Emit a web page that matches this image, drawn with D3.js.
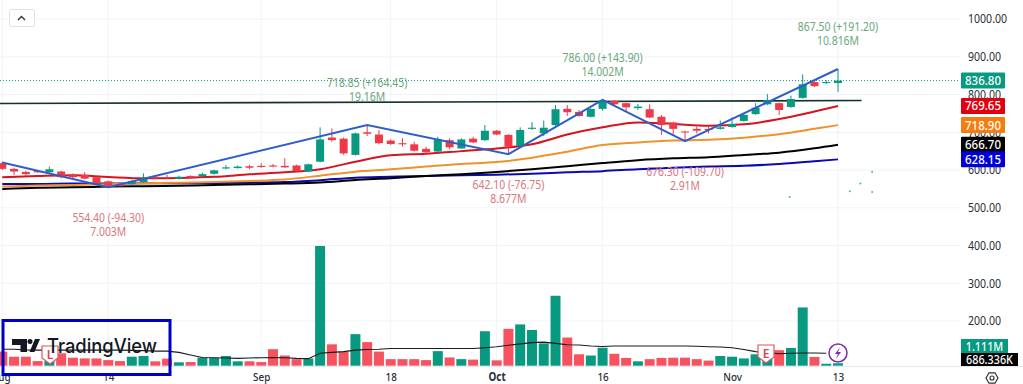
<!DOCTYPE html>
<html>
<head>
<meta charset="utf-8">
<script src="https://cdn.jsdelivr.net/npm/d3@7"></script>
<style>
  html, body { margin: 0; padding: 0; background: #fff; overflow: hidden; }
  svg { display: block; font-family: "Noto Sans", sans-serif; }
</style>
</head>
<body>
<svg id="chart" width="1023" height="384"></svg>
<script>
// daily bars
const opens = [618,603,595,597,594,596,589,587,581,570,563,563,568,582,581,577,584,584,590,604,605,610,611,612,611,612,596,622,686,683,640,700,694,678,671,668,656,649,679,657,683,679,704,693,664,709,697,719,762,754,741,762,783,777,764,761,741,726,702,709,709,709,714,730,748,774,777,767,791,833,831,830.5]
const highs = [622,606,598,599,609,598,591,594,583,572,565,573,591,584,587,585,586,593,601,613,612,614,618,616,631,614,617,713,710,686,699,718.85,706,681,684,675,662,688,684,684,688,719,706,695,713,727,731,772,772,759,763,786,785,778,775,774,746,728,704,715,717,731,740,748,777,801,778,797,853,835,838,867.5]
const lows = [600,587,585,592,591,578,578,575,564,554.4,556,561,566,576,576,575,578,581,588,602,604,602,606,607,606,595,594,620,675,640,638,690,668,666,662,649,644,647,655,656,671,677,692,642.1,662,706,690,717,743,741,739,757,772,754,759,737,693,693,676.3,697,697,707,712,728,746,772,746,765,789,820,828,807]
const closes = [603,596,589,594,602,581,581,577,566,559,557,571,578,578,579,582,580,589,599,607,609,606,608,609,607,597,615,681,679,644,697,696,671,669,668,651,647,681,660,681,673,704,694,662,706,712,712,761,753,743,762,783,774,766,768,739,719,709,700,704,706,713,722,746,765,785,759,788,827,822,833,836.8]
const volumes = [5.8,3.7,3.7,1.9,1.9,5.1,3.3,3.0,3.0,2.3,1.9,3.7,4.0,1.8,2.9,1.4,1.5,3.3,3.2,4.0,1.8,1.8,1.5,6.8,4.2,2.7,3.0,49.3,8.8,5.8,13,9.7,5.8,2.7,2.7,2.7,2.3,6.0,3.4,2.7,2.5,14.2,2.2,15.2,17,14.7,9.2,28.8,11.6,4.7,4.2,7.4,4.9,3.2,1.8,2.7,3.2,3.3,3.3,2.7,2.1,4,3.7,3,4.7,3,6.4,7.3,24,3.6,0.8,1.0]
const volumeMa = [6.8,6.8,6.5,6.4,6.4,6.4,6.4,6.4,6.4,6.4,6.4,6.3,6.2,6.0,6.0,5.5,4.4,3.4,3.3,3.2,3.0,3.2,3.3,3.4,3.3,3.0,2.9,5.1,5.5,5.8,6.4,6.7,6.8,7.1,7.1,7.1,7.1,7.1,7.1,7.1,7.1,7.4,7.8,8.4,9.0,9.5,9.7,9.2,8.6,8.5,8.1,7.9,8.1,8.1,8.1,8.1,8.1,8.1,8.1,8.0,7.8,7.7,7.4,6.7,5.8,5.3,4.9,5.1,5.2,5.2,5.1]

// moving averages, read every third bar
const maBars = [0,3,6,9,12,15,18,21,24,27,30,33,36,39,42,45,48,51,54,57,60,63,66,69,71]
const maRed = [581,584,586,581.5,578,579,582,588.6,594,602,622,639,643,650,657,668,694,713,726,722,717.4,721,735,755,769.65]
const maOrange = [556,559,560,562,565,566.5,568,571,575,585,595.6,601.7,609,616,621,632.6,648.5,666,673,678,680,685.6,695,709,718.9]
const maBlack = [549.7,553,554,556,557,558.5,560,562,564,567,573.5,578,584,589,595,602,610,618.5,626,631,634,640,646,657.4,666.7]
const maNavy = [563,563,564,564,565,565,565.6,566.5,568,573,579.7,582,584,586,587.6,590,593.8,597,602,606,609,611,616,623,628.15]

// zigzag pivots
const pivotBars = [0,9,31,43,51,58,71]
const pivotPrices = [620,554.4,718.85,642.1,786,676.3,867.5]
const pivotPriceText = [null,"554.40 (-94.30)","718.85 (+164.45)","642.10 (-76.75)","786.00 (+143.90)","676.30 (-109.70)","867.50 (+191.20)"]
const pivotVolumeText = [null,"7.003M","19.16M","8.677M","14.002M","2.91M","10.816M"]

const resistanceBars = [-0.2,73]
const resistancePrices = [776,784]
const dotBars = [66.9,72,72.9,73.9,73.9]
const dotPrices = [528.5,544,564,595.5,541.7]

const priceTicks = [200,300,400,500,600,700,800,900,1000]
const dateTicks = [0,9,22,33,42,51,62,71]
const dateLabels = ["Aug","14","Sep","18","Oct","16","Nov","13"]

const lastPrice = 836.8
const priceTags = [
  { text: "836.80", value: 836.8, color: "#089981" },
  { text: "769.65", value: 769.65, color: "#e0000f" },
  { text: "718.90", value: 718.9, color: "#f57c0e" },
  { text: "666.70", value: 666.7, color: "#000000" },
  { text: "628.15", value: 628.15, color: "#0000d6" }
]

const GREEN = "#089981", RED = "#ee3a48", VOL_RED = "#f7525f"
const svg = d3.select("#chart")
const x = d3.scaleLinear().domain([0, 71]).range([2.3, 838])
const y = d3.scaleLinear().domain([200, 1000]).range([321, 19])
const vol = d3.scaleLinear().domain([0, 49.3]).range([365.7, 246])
const bars = d3.range(opens.length)

// squeezes text a bit, the screenshot is narrower than it is tall
function squeeze(sel, k) {
    sel.each(function () {
        const len = this.getComputedTextLength()
        d3.select(this).attr("textLength", len * k).attr("lengthAdjust", "spacingAndGlyphs")
    })
}

// grid
const grid = svg.append("g").attr("stroke", "#f0f3fa").attr("stroke-width", 1)
grid.selectAll("line.v").data(dateTicks).join("line").attr("class", "v")
    .attr("x1", d => x(d)).attr("x2", d => x(d)).attr("y1", 0).attr("y2", 366)
grid.selectAll("line.h").data(priceTicks).join("line").attr("class", "h")
    .attr("x1", 0).attr("x2", 960).attr("y1", d => y(d)).attr("y2", d => y(d))

// volume pane
svg.append("g").selectAll("rect").data(bars).join("rect")
    .attr("x", i => x(i) - 5)
    .attr("width", 10)
    .attr("y", i => vol(volumes[i]))
    .attr("height", i => vol(0) - vol(volumes[i]))
    .attr("fill", i => closes[i] >= opens[i] ? GREEN : VOL_RED)

svg.append("path")
    .attr("d", d3.line().x((d, i) => x(i)).y(d => vol(d))(volumeMa))
    .attr("fill", "none").attr("stroke", "#1a1a1a").attr("stroke-width", 1.1)

svg.append("line").attr("x1", 0).attr("x2", 1023).attr("y1", 366.5).attr("y2", 366.5).attr("stroke", "#e6e8ee")

// last price line
svg.append("line")
    .attr("x1", 0).attr("x2", 960).attr("y1", y(lastPrice)).attr("y2", y(lastPrice))
    .attr("stroke", GREEN).attr("stroke-dasharray", "1 2").attr("stroke-width", 1)

// resistance
svg.append("line")
    .attr("x1", x(resistanceBars[0])).attr("x2", x(resistanceBars[1]))
    .attr("y1", y(resistancePrices[0])).attr("y2", y(resistancePrices[1]))
    .attr("stroke", "#16302a").attr("stroke-width", 1.6)

// moving averages
const maLine = d3.line().x((d, i) => x(maBars[i])).y(d => y(d)).curve(d3.curveMonotoneX)
const maSeries = [[maNavy, "#0a0ab0"], [maBlack, "#000000"], [maOrange, "#f0922b"], [maRed, "#d4141f"]]
svg.append("g").selectAll("path").data(maSeries).join("path")
    .attr("d", d => maLine(d[0]))
    .attr("fill", "none")
    .attr("stroke", d => d[1])
    .attr("stroke-width", 2)

// candles
const candle = svg.append("g").selectAll("g").data(bars).join("g")
    .attr("fill", i => closes[i] >= opens[i] ? GREEN : RED)
    .attr("stroke", i => closes[i] >= opens[i] ? GREEN : RED)
candle.append("line")
    .attr("x1", i => x(i)).attr("x2", i => x(i))
    .attr("y1", i => y(highs[i])).attr("y2", i => y(lows[i]))
candle.append("rect")
    .attr("x", i => x(i) - 4)
    .attr("width", 8)
    .attr("y", i => y(Math.max(opens[i], closes[i])))
    .attr("height", i => Math.max(1, Math.abs(y(opens[i]) - y(closes[i]))))
    .attr("stroke", "none")

// stray dots right of the last bar
svg.append("g").selectAll("circle").data(dotBars).join("circle")
    .attr("cx", d => x(d)).attr("cy", (d, i) => y(dotPrices[i])).attr("r", 1).attr("fill", "#4fb3a8")

// zigzag
svg.append("path")
    .attr("d", d3.line().x((d, i) => x(pivotBars[i])).y(d => y(d))(pivotPrices))
    .attr("fill", "none").attr("stroke", "#2e5fc8").attr("stroke-width", 2)

// pivot labels
pivotBars.forEach((b, i) => {
    if (!pivotPriceText[i]) return
    const up = pivotPrices[i] > pivotPrices[i - 1]
    const py = y(pivotPrices[i])
    const color = up ? "#6aa87a" : "#d9777d"
    svg.append("text").attr("x", x(b)).attr("y", py + (up ? -38 : 35))
        .attr("text-anchor", "middle").attr("font-size", 12).attr("fill", color)
        .text(pivotPriceText[i]).call(squeeze, 0.87)
    svg.append("text").attr("x", x(b)).attr("y", py + (up ? -24 : 49))
        .attr("text-anchor", "middle").attr("font-size", 12).attr("fill", color)
        .text(pivotVolumeText[i]).call(squeeze, 0.87)
})

// axes
const priceAxis = svg.append("g").attr("transform", "translate(961,0)")
    .call(d3.axisRight(y).tickValues(priceTicks).tickSize(0).tickPadding(7).tickFormat(d3.format(".2f")))
priceAxis.select(".domain").remove()
priceAxis.selectAll("text").attr("font-size", 12).attr("fill", "#2a2e39").attr("font-family", "Noto Sans").call(squeeze, 0.88)

const dateAxis = svg.append("g").attr("transform", "translate(0,366)")
    .call(d3.axisBottom(x).tickValues(dateTicks).tickSize(0).tickPadding(7).tickFormat((d, i) => dateLabels[i]))
dateAxis.select(".domain").remove()
dateAxis.selectAll("text").attr("font-size", 11.5).attr("fill", "#2a2e39").attr("font-family", "Noto Sans")
    .attr("font-weight", d => d === 42 ? 700 : 500)
    .attr("dx", d => d === 0 ? -1.5 : 0)
    .call(squeeze, 0.86)

// price tags
const tag = svg.append("g").selectAll("g").data(priceTags).join("g")
    .attr("transform", d => `translate(961,${y(d.value)})`)
tag.append("rect").attr("x", 0).attr("y", -8).attr("width", 44).attr("height", 16).attr("rx", 1).attr("fill", d => d.color)
tag.append("text").attr("x", 22).attr("y", 4.5).attr("text-anchor", "middle").attr("font-size", 12.5)
    .attr("fill", "#fff").attr("font-weight", 500).text(d => d.text).call(squeeze, 0.92)

// volume tags
svg.append("rect").attr("x", 961).attr("y", 339).attr("width", 47).attr("height", 14).attr("fill", GREEN)
svg.append("text").attr("x", 984.5).attr("y", 350.5).attr("text-anchor", "middle").attr("font-size", 12)
    .attr("fill", "#fff").attr("font-weight", 500).text("1.111M").call(squeeze, 0.9)
svg.append("rect").attr("x", 961).attr("y", 353).attr("width", 57).attr("height", 13).attr("fill", "#000")
svg.append("text").attr("x", 989.5).attr("y", 364).attr("text-anchor", "middle").attr("font-size", 12)
    .attr("fill", "#fff").attr("font-weight", 500).text("686.336K").call(squeeze, 0.9)

// earnings badges
function badge(cx, cy, letter) {
    const g = svg.append("g").attr("transform", `translate(${cx},${cy})`)
    g.append("path").attr("d", "M-8,-8H8V4L0,10L-8,4Z").attr("fill", "#fff").attr("stroke", "#e0555f").attr("stroke-width", 1.2)
    g.append("text").attr("y", 4.5).attr("text-anchor", "middle").attr("font-size", 12)
        .attr("font-weight", 600).attr("fill", "#d9434f").text(letter)
}
badge(766, 353, "E")
badge(50, 354, "L")

// dividend style marker at the last bar
const bolt = svg.append("g").attr("transform", "translate(838,353)")
bolt.append("circle").attr("r", 9).attr("fill", "#fff").attr("stroke", "#7b2fb0").attr("stroke-width", 1.5)
bolt.append("path").attr("d", "M2,-6L-3,1H0L-2,6L3,-1H0Z").attr("fill", "#7b2fb0")

// collapse button top left
svg.append("rect").attr("x", 9.5).attr("y", 9.5).attr("width", 25).attr("height", 17).attr("rx", 2)
    .attr("fill", "#fff").attr("stroke", "#dfe1e6")
svg.append("path").attr("d", "M18,20L21.5,16.5L25,20").attr("fill", "none").attr("stroke", "#333").attr("stroke-width", 1.4)

// settings icon
svg.append("path").attr("d", "M986,378L989,372.8H995L998,378L995,383.2H989Z").attr("fill", "none").attr("stroke", "#333").attr("stroke-width", 1.2)
svg.append("circle").attr("cx", 992).attr("cy", 378).attr("r", 2).attr("fill", "none").attr("stroke", "#333").attr("stroke-width", 1.2)

// logo with the blue box round it
svg.append("rect").attr("x", 3).attr("y", 320.5).attr("width", 167).attr("height", 54)
    .attr("fill", "none").attr("stroke", "#0000c4").attr("stroke-width", 3)
const logo = svg.append("g").attr("fill", "#131722")
logo.append("path").attr("d", "M12,339H27V352H20.5V345H12Z")
logo.append("circle").attr("cx", 30).attr("cy", 341.5).attr("r", 2.5)
logo.append("path").attr("d", "M29.5,352L35,339H40L34.5,352Z")
logo.append("text").attr("x", 47).attr("y", 352.5).attr("font-family", "Inter, sans-serif")
    .attr("font-size", 20).attr("font-weight", 500).attr("textLength", 110).attr("lengthAdjust", "spacingAndGlyphs")
    .text("TradingView")
</script>
</body>
</html>
